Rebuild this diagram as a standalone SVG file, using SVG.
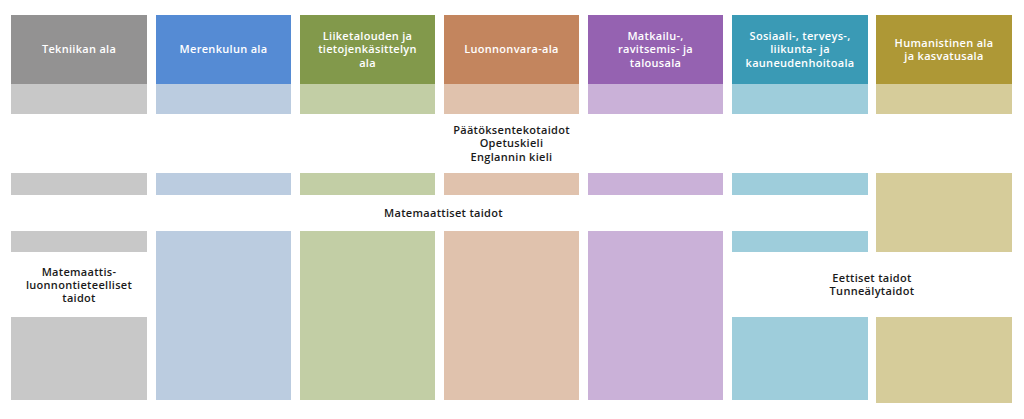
<svg xmlns="http://www.w3.org/2000/svg" width="1024" height="419" viewBox="0 0 1024 419">
<style>
.h{font-family:"Open Sans","Liberation Sans",sans-serif;font-weight:600;font-size:11px;letter-spacing:0.3px;fill:#fff;text-anchor:middle}
.t{font-family:"Open Sans","Liberation Sans",sans-serif;font-weight:600;font-size:11px;letter-spacing:0.3px;fill:#1a1a1a;text-anchor:middle}
</style>
<rect width="1024" height="419" fill="#fff"/>
<g id="tekniikka">
<rect x="11" y="15" width="136" height="69" fill="#939292"/>
<rect x="11" y="84" width="136" height="30" fill="#c8c8c8"/>
<rect x="11" y="173" width="136" height="22" fill="#c8c8c8"/>
<rect x="11" y="231" width="136" height="21" fill="#c8c8c8"/>
<rect x="11" y="317" width="136" height="83" fill="#c8c8c8"/>
<text class="h" x="79" y="53">Tekniikan ala</text>
</g>
<g id="merenkulku">
<rect x="156" y="15" width="135" height="69" fill="#558bd4"/>
<rect x="156" y="84" width="135" height="30" fill="#bbcce0"/>
<rect x="156" y="173" width="135" height="22" fill="#bbcce0"/>
<rect x="156" y="231" width="135" height="169" fill="#bbcce0"/>
<text class="h" x="223.5" y="53">Merenkulun ala</text>
</g>
<g id="liiketalous">
<rect x="300" y="15" width="135" height="69" fill="#82994b"/>
<rect x="300" y="84" width="135" height="30" fill="#c2cea5"/>
<rect x="300" y="173" width="135" height="22" fill="#c2cea5"/>
<rect x="300" y="231" width="135" height="169" fill="#c2cea5"/>
<text class="h" x="367.5" y="40">Liiketalouden ja</text>
<text class="h" x="367.5" y="53.3">tietojenkäsittelyn</text>
<text class="h" x="367.5" y="66.6">ala</text>
</g>
<g id="luonnonvara">
<rect x="444" y="15" width="135" height="69" fill="#c3855e"/>
<rect x="444" y="84" width="135" height="30" fill="#e0c2ad"/>
<rect x="444" y="173" width="135" height="22" fill="#e0c2ad"/>
<rect x="444" y="231" width="135" height="169" fill="#e0c2ad"/>
<text class="h" x="511.5" y="53">Luonnonvara-ala</text>
</g>
<g id="matkailu">
<rect x="588" y="15" width="135" height="69" fill="#9562b1"/>
<rect x="588" y="84" width="135" height="30" fill="#cab1d8"/>
<rect x="588" y="173" width="135" height="22" fill="#cab1d8"/>
<rect x="588" y="231" width="135" height="169" fill="#cab1d8"/>
<text class="h" x="655.5" y="40">Matkailu-,</text>
<text class="h" x="655.5" y="53.3">ravitsemis- ja</text>
<text class="h" x="655.5" y="66.6">talousala</text>
</g>
<g id="sosiaali">
<rect x="732" y="15" width="136" height="69" fill="#3a9ab5"/>
<rect x="732" y="84" width="136" height="30" fill="#9ecddb"/>
<rect x="732" y="173" width="136" height="22" fill="#9ecddb"/>
<rect x="732" y="231" width="136" height="21" fill="#9ecddb"/>
<rect x="732" y="317" width="136" height="83" fill="#9ecddb"/>
<text class="h" x="800" y="40">Sosiaali-, terveys-,</text>
<text class="h" x="800" y="53.3">liikunta- ja</text>
<text class="h" x="800" y="66.6">kauneudenhoitoala</text>
</g>
<g id="humanistinen">
<rect x="876" y="15" width="136" height="69" fill="#ae9836"/>
<rect x="876" y="84" width="136" height="30" fill="#d6cc9a"/>
<rect x="876" y="173" width="136" height="79" fill="#d6cc9a"/>
<rect x="876" y="317" width="136" height="86" fill="#d6cc9a"/>
<text class="h" x="944" y="46.5">Humanistinen ala</text>
<text class="h" x="944" y="59.8">ja kasvatusala</text>
</g>
<g id="taidot">
<text class="t" x="511.5" y="134">Päätöksentekotaidot</text>
<text class="t" x="511.5" y="147.3">Opetuskieli</text>
<text class="t" x="511.5" y="160.6">Englannin kieli</text>
<text class="t" x="443.5" y="217">Matemaattiset taidot</text>
<text class="t" x="79" y="275.7">Matemaattis-</text>
<text class="t" x="79" y="289">luonnontieteelliset</text>
<text class="t" x="79" y="302.3">taidot</text>
<text class="t" x="872" y="282">Eettiset taidot</text>
<text class="t" x="872" y="295.3">Tunneälytaidot</text>
</g>
<g id="connectors"/>
</svg>
